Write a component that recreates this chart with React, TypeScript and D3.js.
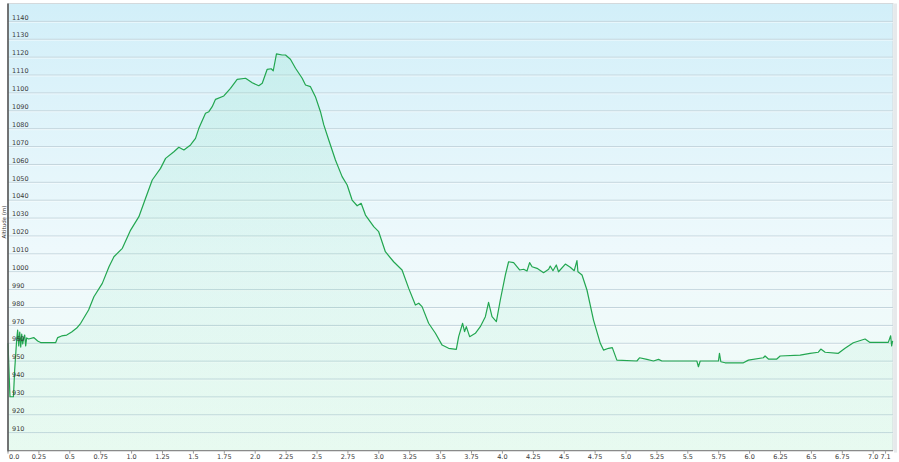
import React from "react";
import * as d3 from "d3";

const distances = [
  0.0, 0.016, 0.044, 0.054, 0.07, 0.078, 0.087, 0.095, 0.103, 0.111, 0.119, 0.127, 0.135, 0.143, 0.151, 0.167,
  0.208, 0.24, 0.264, 0.386, 0.402, 0.434, 0.475, 0.515, 0.556, 0.588, 0.652, 0.695, 0.763, 0.817, 0.857, 0.925,
  0.992, 1.059, 1.113, 1.167, 1.234, 1.275, 1.342, 1.382, 1.423, 1.477, 1.517, 1.544, 1.598, 1.625, 1.652, 1.679,
  1.746, 1.8, 1.854, 1.922, 1.976, 2.029, 2.057, 2.097, 2.129, 2.146, 2.172, 2.218, 2.245, 2.285, 2.326, 2.38,
  2.407, 2.447, 2.487, 2.528, 2.555, 2.595, 2.649, 2.703, 2.744, 2.784, 2.825, 2.857, 2.892, 2.959, 2.999, 3.053,
  3.12, 3.188, 3.242, 3.296, 3.323, 3.35, 3.403, 3.458, 3.512, 3.565, 3.627, 3.646, 3.678, 3.694, 3.708, 3.735,
  3.781, 3.821, 3.862, 3.888, 3.916, 3.951, 3.983, 4.024, 4.05, 4.091, 4.139, 4.172, 4.199, 4.22, 4.24, 4.28,
  4.333, 4.374, 4.387, 4.409, 4.436, 4.454, 4.509, 4.549, 4.581, 4.603, 4.611, 4.644, 4.684, 4.737, 4.792, 4.818,
  4.859, 4.889, 4.926, 5.088, 5.109, 5.169, 5.222, 5.263, 5.29, 5.573, 5.586, 5.6, 5.748, 5.756, 5.767, 5.802,
  5.95, 5.99, 6.111, 6.125, 6.152, 6.22, 6.247, 6.409, 6.489, 6.556, 6.576, 6.611, 6.718, 6.772, 6.839, 6.934,
  6.974, 7.122, 7.141, 7.149, 7.157,
];

const altitudes = [
  960.0, 930.1, 930.1, 945.1, 961.8, 967.4, 958.5, 966.3, 957.9, 965.2, 959.6, 963.0, 964.6, 958.5, 963.0, 962.4,
  963.2, 961.3, 960.4, 960.4, 963.2, 964.1, 964.6, 966.3, 968.5, 971.2, 978.6, 986.0, 993.5, 1002.8, 1008.4, 1013.1,
  1023.3, 1030.8, 1041.1, 1051.3, 1057.8, 1063.4, 1067.1, 1069.6, 1068.1, 1070.9, 1074.6, 1080.2, 1088.6, 1089.5, 1092.3, 1096.4,
  1098.3, 1102.6, 1107.6, 1108.2, 1105.7, 1104.0, 1105.4, 1113.2, 1113.5, 1112.4, 1121.8, 1121.2, 1121.2, 1118.8, 1113.8, 1108.2,
  1104.4, 1103.5, 1097.9, 1089.5, 1082.1, 1073.7, 1062.5, 1053.2, 1048.5, 1040.1, 1036.9, 1038.3, 1031.7, 1025.2, 1022.4, 1011.2,
  1005.6, 1001.0, 990.7, 981.4, 982.4, 980.5, 971.2, 965.6, 959.0, 957.2, 956.6, 963.7, 971.2, 966.5, 969.3, 963.7,
  965.6, 969.3, 974.9, 982.9, 974.9, 972.1, 984.2, 998.2, 1005.6, 1005.1, 1001.0, 1001.4, 1000.4, 1005.1, 1002.8, 1001.9,
  999.5, 1001.4, 1003.2, 1000.6, 1003.8, 1000.0, 1004.3, 1002.5, 1000.6, 1006.2, 1000.0, 998.2, 989.8, 973.0, 960.0, 956.2,
  957.2, 957.6, 950.6, 950.1, 951.9, 951.0, 950.1, 951.0, 950.1, 950.1, 946.9, 950.1, 950.1, 954.4, 949.7, 949.1,
  949.1, 950.6, 951.9, 952.9, 951.2, 951.2, 952.9, 953.4, 954.4, 955.0, 956.8, 955.0, 954.4, 957.2, 960.3, 962.4,
  960.5, 960.5, 964.2, 958.5, 961.4,
];

const yTicks = [910, 920, 930, 940, 950, 960, 970, 980, 990, 1000, 1010, 1020, 1030, 1040, 1050, 1060, 1070, 1080, 1090, 1100, 1110, 1120, 1130, 1140];
const xTicks = [0, 0.25, 0.5, 0.75, 1.0, 1.25, 1.5, 1.75, 2.0, 2.25, 2.5, 2.75, 3.0, 3.25, 3.5, 3.75, 4.0, 4.25, 4.5, 4.75, 5.0, 5.25, 5.5, 5.75, 6.0, 6.25, 6.5, 6.75, 7.0, 7.1];
const xTickLabels = ["0.0", "0.25", "0.5", "0.75", "1.0", "1.25", "1.5", "1.75", "2.0", "2.25", "2.5", "2.75", "3.0", "3.25", "3.5", "3.75", "4.0", "4.25", "4.5", "4.75", "5.0", "5.25", "5.5", "5.75", "6.0", "6.25", "6.5", "6.75", "7.0", "7.1"];
const yTitle = "Altitude (m)";

export default function App() {
  const W = 899, H = 462;
  const left = 8, right = 893, top = 3.5, bottom = 450.6;
  const x = d3.scaleLinear().domain([0, 7.16]).range([left, right]);
  const y = d3.scaleLinear().domain([900, 1150]).range([bottom, top]);
  const pts = distances.map((d, i) => [d, altitudes[i]] as [number, number]);
  const line = d3.line<[number, number]>().x((p) => x(p[0])).y((p) => y(p[1]));
  const area = d3.area<[number, number]>().x((p) => x(p[0])).y0(bottom).y1((p) => y(p[1]));
  const font = "'DejaVu Sans', Verdana, sans-serif";

  return (
    <svg width={W} height={H} style={{ position: "absolute", left: 0, top: 0, background: "#fff" }}>
      <defs>
        <linearGradient id="bg" x1="0" y1="0" x2="0" y2="1">
          <stop offset="0" stopColor="#d2eff9" />
          <stop offset="0.55" stopColor="#eef9fc" />
          <stop offset="1" stopColor="#f2fcf6" />
        </linearGradient>
        <linearGradient id="fillg" x1="0" y1="0" x2="0" y2="1">
          <stop offset="0" stopColor="#44d890" stopOpacity="0.11" />
          <stop offset="1" stopColor="#44d890" stopOpacity="0.06" />
        </linearGradient>
      </defs>
      <rect x={left} y={top} width={right - left} height={bottom - top} fill="url(#bg)" stroke="#d4d9dc" strokeWidth={1} />
      <rect x={right + 1} y={top} width={3} height={bottom - top + 2} fill="#e6e9eb" />
      {yTicks.map((t) => (
        <g key={t}>
          <line x1={left} x2={right} y1={y(t)} y2={y(t)} stroke="#c3d4dc" strokeWidth={1} />
          <line x1={left} x2={right} y1={y(t) + 1} y2={y(t) + 1} stroke="#ffffff" strokeOpacity={0.5} strokeWidth={1} />
        </g>
      ))}
      <path d={area(pts) || ""} fill="url(#fillg)" />
      <path d={line(pts) || ""} fill="none" stroke="#22a650" strokeWidth={1.2} strokeLinejoin="round" />
      {yTicks.map((t) => (
        <text key={"l" + t} x={12} y={y(t) - 1.8} fontSize={6.5} fontFamily={font} fill="#3a3a3a">
          {t}
        </text>
      ))}
      <line x1={left} x2={right} y1={bottom} y2={bottom} stroke="#8a8a8a" strokeWidth={1.2} />
      <line x1={left} x2={left} y1={top} y2={bottom + 1} stroke="#555" strokeWidth={1.6} />
      {xTicks.map((t, i) => (
        <g key={"x" + i}>
          <line x1={x(t)} x2={x(t)} y1={bottom} y2={bottom + 3} stroke="#999" strokeWidth={1} />
          <text
            x={i === 0 ? left + 1 : x(t)}
            y={459}
            fontSize={6.5}
            fontFamily={font}
            fill="#3a3a3a"
            textAnchor={i === 0 ? "start" : "middle"}
          >
            {xTickLabels[i]}
          </text>
        </g>
      ))}
      <text
        transform={`translate(5.5, ${(top + bottom) / 2 - 5}) rotate(-90)`}
        fontSize={5.5}
        fontFamily={font}
        fill="#333"
        textAnchor="middle"
      >
        {yTitle}
      </text>
    </svg>
  );
}
